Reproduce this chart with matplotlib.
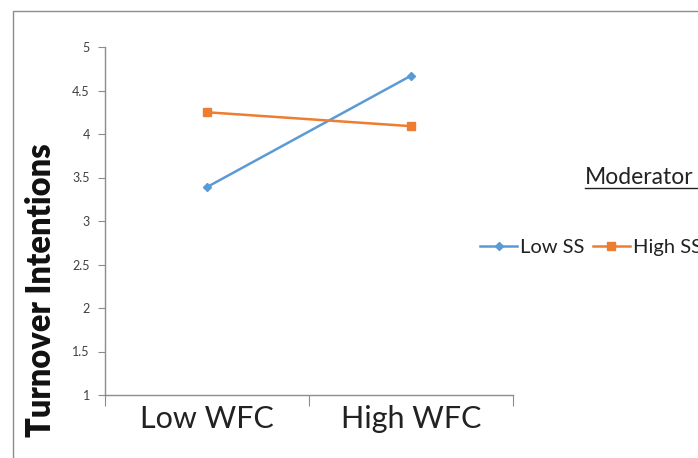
import matplotlib
matplotlib.use("Agg")
import matplotlib.pyplot as plt
from matplotlib.patches import Rectangle
from matplotlib.lines import Line2D

categories = ["Low WFC", "High WFC"]
low_ss = [3.39, 4.67]
high_ss = [4.25, 4.09]
series_names = ["Low SS", "High SS"]
yticks = [1, 1.5, 2, 2.5, 3, 3.5, 4, 4.5, 5]
ytick_labels = ["1", "1.5", "2", "2.5", "3", "3.5", "4", "4.5", "5"]

plt.rcParams['font.family'] = ['Lato', 'DejaVu Sans']

W, H = 698, 458
fig = plt.figure(figsize=(W / 100, H / 100), dpi=100)
ax = fig.add_axes([105 / W, 1 - 395 / H, (513 - 105) / W, (395 - 47) / H])

# outer chart border
fig.patches.append(Rectangle((13 / W, -0.05), 1.0, 1 - 11 / H + 0.05, transform=fig.transFigure,
                             fill=False, edgecolor="#8c8c8c", linewidth=1.0))

x = [0, 1]
l1, = ax.plot(x, low_ss, color="#5B9BD5", marker="D", markersize=4.5, linewidth=1.8, label=series_names[0])
l2, = ax.plot(x, high_ss, color="#ED7D31", marker="s", markersize=6, linewidth=1.8, label=series_names[1])

ax.set_xlim(-0.5, 1.5)
ax.set_ylim(1, 5)
ax.set_yticks(yticks)
ax.set_yticklabels(ytick_labels, fontsize=9, color="#404040")
ax.set_xticks([-0.5, 0.5, 1.5])
ax.set_xticklabels([])
ax.set_xticks(x, minor=True)
ax.set_xticklabels(categories, minor=True, fontsize=22, color="#222222")
ax.tick_params(axis="x", which="major", length=8, direction="out", color="#8c8c8c")
ax.tick_params(axis="x", which="minor", length=0, pad=7)
ax.tick_params(axis="y", length=5, direction="out", color="#8c8c8c", pad=6)

for s in ["top", "right"]:
    ax.spines[s].set_visible(False)
for s in ["left", "bottom"]:
    ax.spines[s].set_color("#8c8c8c")
    ax.spines[s].set_linewidth(1.0)
ax.spines["left"].set_bounds(1, 5)

fig.text(41 / W, 1 - 290 / H, "Turnover Intentions", rotation=90, fontsize=23.5, fontweight="heavy",
         ha="center", va="center", color="#111111")

# legend title underlined
t = fig.text(585 / W, 1 - 184 / H, "Moderator", fontsize=16.5, color="#222222", ha="left", va="baseline")
fig.lines.append(Line2D([585 / W, 1.0], [1 - 188 / H, 1 - 188 / H], transform=fig.transFigure,
                        color="#222222", linewidth=1.0))

leg = fig.legend(handles=[l1, l2], loc="center left", bbox_to_anchor=(480 / W, 1 - 247 / H),
                 ncol=2, frameon=False, fontsize=14.5, handlelength=1.85, handletextpad=0.15,
                 columnspacing=0.4, borderpad=0, borderaxespad=0)
for txt in leg.get_texts():
    txt.set_color("#222222")

fig.savefig("out.png", dpi=100)
